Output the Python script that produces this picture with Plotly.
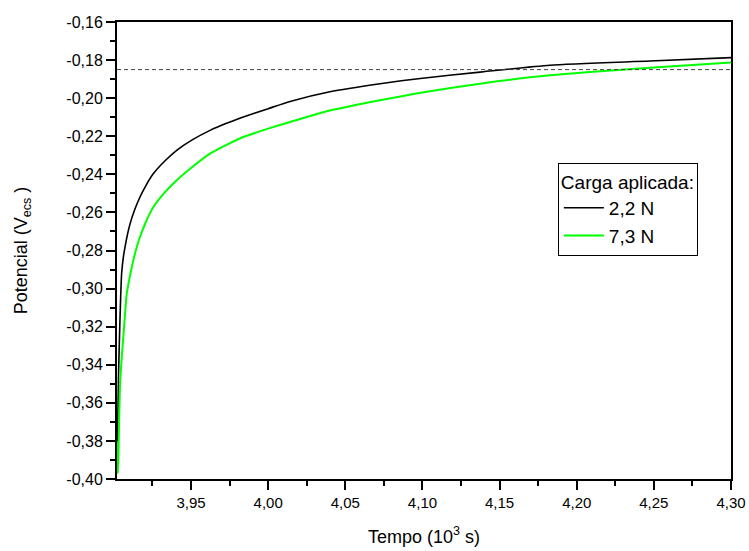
import plotly.graph_objects as go

# ---- data (time in 10^3 s, potential in V_ecs) ----
t_22 = [3.9021, 3.9025, 3.9030, 3.9039, 3.9050, 3.9062, 3.9072, 3.9088, 3.9105, 3.9135,
        3.9169, 3.9210, 3.9256, 3.9330, 3.9407, 3.9510, 3.9623, 3.9730, 3.9839, 4.0000,
        4.0142, 4.0400, 4.0725, 4.1000, 4.1373, 4.1827, 4.2475, 4.3000]
v_22 = [-0.395, -0.372, -0.345, -0.317, -0.2921, -0.2830, -0.2782, -0.2715, -0.2659, -0.2585,
        -0.2519, -0.2455, -0.2396, -0.2330, -0.2274, -0.2218, -0.2169, -0.2132, -0.2099, -0.2055,
        -0.2017, -0.1966, -0.1924, -0.1895, -0.1863, -0.1827, -0.1805, -0.1787]

t_73 = [3.9017, 3.9022, 3.9026, 3.9030, 3.9039, 3.9050, 3.9061, 3.9072, 3.9083, 3.9100,
        3.9116, 3.9140, 3.9169, 3.9210, 3.9256, 3.9330, 3.9407, 3.9510, 3.9623, 3.9730,
        3.9839, 4.0000, 4.0142, 4.0400, 4.0725, 4.1000, 4.1373, 4.1827, 4.2475, 4.3000]
v_73 = [-0.380, -0.392, -0.397, -0.385, -0.3517, -0.337, -0.3254, -0.3135, -0.3027, -0.2950,
        -0.2887, -0.2805, -0.2729, -0.2645, -0.2572, -0.2495, -0.2431, -0.2360, -0.2291, -0.2245,
        -0.2204, -0.2160, -0.2125, -0.2065, -0.2011, -0.1970, -0.1924, -0.1880, -0.1840, -0.1813]

reference_level = -0.185

series_names = ["2,2 N", "7,3 N"]
legend_title = "Carga aplicada:"

x_tick_vals = [3.95, 4.00, 4.05, 4.10, 4.15, 4.20, 4.25, 4.30]
x_tick_text = ["3,95", "4,00", "4,05", "4,10", "4,15", "4,20", "4,25", "4,30"]
y_tick_vals = [-0.40, -0.38, -0.36, -0.34, -0.32, -0.30, -0.28, -0.26, -0.24, -0.22,
               -0.20, -0.18, -0.16]
y_tick_text = ["-0,40", "-0,38", "-0,36", "-0,34", "-0,32", "-0,30", "-0,28", "-0,26",
               "-0,24", "-0,22", "-0,20", "-0,18", "-0,16"]

FONT = "Arial, Liberation Sans, sans-serif"

fig = go.Figure()
fig.add_trace(go.Scatter(x=t_22, y=v_22, mode="lines", name=series_names[0],
                         line=dict(color="#000000", width=1.6, shape="spline", smoothing=0.6)))
fig.add_trace(go.Scatter(x=t_73, y=v_73, mode="lines", name=series_names[1],
                         line=dict(color="#00ff00", width=2, shape="spline", smoothing=0.6)))

fig.add_shape(type="line", xref="paper", x0=0, x1=1, yref="y",
              y0=reference_level, y1=reference_level,
              line=dict(color="#444444", width=1, dash="4px,3px"))

fig.update_layout(
    width=749, height=551,
    margin=dict(l=117, r=18, t=22, b=72, autoexpand=False),
    paper_bgcolor="white", plot_bgcolor="white",
    font=dict(family=FONT, color="black", size=15),
    showlegend=True,
    legend=dict(
        title=dict(text=legend_title, font=dict(size=19, family=FONT)),
        font=dict(size=19, family=FONT),
        x=0.718, y=0.691, xanchor="left", yanchor="top",
        bordercolor="black", borderwidth=1, bgcolor="white",
        tracegroupgap=0, itemwidth=40,
    ),
)

fig.update_xaxes(
    range=[3.902, 4.30], automargin=False,
    tickmode="array", tickvals=x_tick_vals, ticktext=x_tick_text,
    ticks="outside", ticklen=9, tickwidth=1.5, tickcolor="black",
    minor=dict(ticks="outside", ticklen=5, tickwidth=1.5, tickcolor="black",
               dtick=0.025, tick0=3.925, showgrid=False),
    showline=True, linecolor="black", linewidth=2, mirror=True,
    showgrid=False, zeroline=False,
    tickfont=dict(size=15, family=FONT),
    title=dict(text="Tempo (10<sup>3</sup> s)", font=dict(size=18, family=FONT), standoff=20),
)
fig.update_yaxes(
    range=[-0.40, -0.16], automargin=False,
    tickmode="array", tickvals=y_tick_vals, ticktext=y_tick_text,
    ticks="outside", ticklen=9, tickwidth=1.5, tickcolor="black",
    minor=dict(ticks="outside", ticklen=5, tickwidth=1.5, tickcolor="black",
               dtick=0.01, tick0=-0.40, showgrid=False),
    showline=True, linecolor="black", linewidth=2, mirror=True,
    showgrid=False, zeroline=False,
    tickfont=dict(size=16, family=FONT),
    title=dict(text="Potencial (V<sub>ecs</sub> )", font=dict(size=18, family=FONT), standoff=34),
)

# remove the default 8px page margin so the figure sits at the window origin
fig.write_html("out.html",
               config={"displayModeBar": False},
               post_script="document.body.style.margin='0px';document.body.style.overflow='hidden';")
